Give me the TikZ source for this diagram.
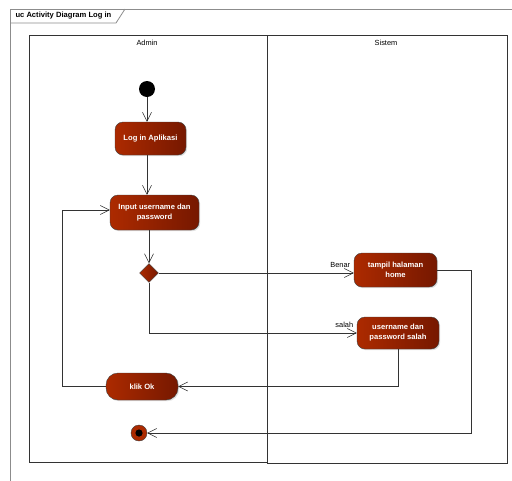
\documentclass[tikz,border=0pt]{standalone}
\usepackage{fontspec}
\setmainfont{Liberation Sans}
\usetikzlibrary{arrows.meta,shapes.geometric,shadows}
\definecolor{actleft}{RGB}{172,42,0}
\definecolor{actright}{RGB}{118,24,0}
\definecolor{frameline}{RGB}{140,140,140}
\begin{document}
\begin{tikzpicture}[x=1pt,y=-1pt,
    act/.style={rectangle,rounded corners=8pt,draw=black!75,left color=actleft,right color=actright,
        text=white,font=\fontsize{7.6}{10}\selectfont\bfseries,align=center,inner sep=1pt,
        drop shadow={shadow xshift=1.2pt,shadow yshift=-1.2pt,opacity=0.25}},
    flow/.style={draw=black!80,line width=0.6pt,-{Straight Barb[length=9pt,width=9pt,line width=0.5pt]}},
    lbl/.style={font=\fontsize{7.4}{9}\selectfont}]
    \useasboundingbox (0,0) rectangle (512,480);
    \clip (0,0) rectangle (512,480);
    \fill[white] (0,0) rectangle (512,480);

    % Frame and title
    \draw[frameline,line width=0.8pt] (10,9) rectangle (530,500);
    \draw[frameline,line width=0.8pt] (10,23) -- (116,23) -- (125,9);
    \node[anchor=west,font=\fontsize{7.6}{9}\selectfont\bfseries] (title) at (12,16) {uc Activity Diagram Log in};

    % Lanes
    \draw[black!80,line width=0.6pt] (29,35) rectangle (267,462);
    \draw[black!80,line width=0.6pt] (267,35) rectangle (507,463);
    \node[lbl] (admin) at (147,43) {Admin};
    \node[lbl] (sistem) at (386,43) {Sistem};

    % Activities
    \node[circle,fill=black,minimum size=16pt,inner sep=0pt] (start) at (147,89) {};
    \node[act,minimum width=71pt,minimum height=33pt] (login) at (150.5,138.5) {Log in Aplikasi};
    \node[act,minimum width=89pt,minimum height=35pt] (input) at (154.5,212.5) {Input username dan\\password};
    \node[diamond,draw=black!75,left color=actleft,right color=actright,minimum size=19pt,inner sep=0pt] (cek) at (149,273) {};
    \node[act,minimum width=83pt,minimum height=34pt] (home) at (395.5,270) {tampil halaman\\home};
    \node[act,minimum width=82pt,minimum height=32pt] (salah) at (398,333) {username dan\\password salah};
    \node[act,rounded corners=12pt,minimum width=72pt,minimum height=27pt] (klik) at (142,386.5) {klik Ok};
    \node[circle,draw=black!75,fill=actleft,minimum size=16pt,inner sep=0pt,
        path picture={\fill[black] (path picture bounding box.center) circle (3.6pt);}] (end) at (139,433) {};

    % Bends
    \coordinate (backR) at (471,433);
    \coordinate (backL) at (62,210);

    % Flows
    \draw[flow] (start) -- (start |- login.north);
    \draw[flow] (login.south -| start) -- (start |- input.north);
    \draw[flow] (cek |- input.south) -- (cek.north);
    \draw[flow] (cek.east) -- (cek -| home.west) node[lbl,above left,xshift=0pt,yshift=1.5pt] {Benar};
    \draw[flow] (cek.south) |- (salah.west) node[lbl,above left,xshift=0pt,yshift=1.5pt] {salah};
    \draw[flow] (salah.south) |- (klik.east);
    \draw[flow] (home.east) -| (backR) -- (end);
    \draw[flow] (klik.west) -| (backL) -- (backL -| input.west);
\end{tikzpicture}
\end{document}
